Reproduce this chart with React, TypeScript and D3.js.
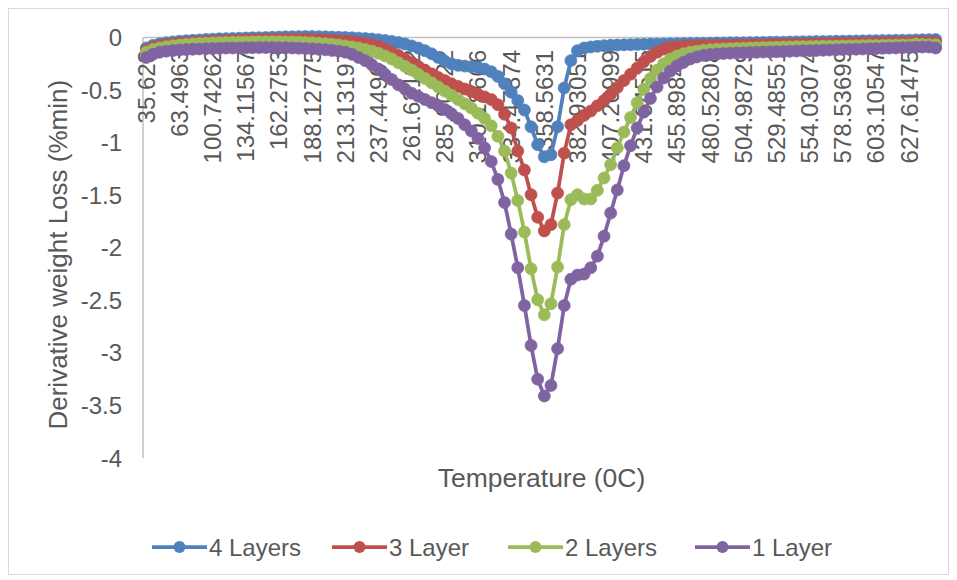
import React from "react";
import * as d3 from "d3";

// Category (temperature) tick labels, one every 5 categories; 120 categories in total
const tickLabels = [
  "35.623", "63.4963", "100.74262", "134.11567", "162.2753", "188.12775",
  "213.13197", "237.44901", "261.62112", "285.90522", "310.18666", "334.47874",
  "358.5631", "382.93051", "407.26999", "431.94515", "455.89848", "480.52808",
  "504.98729", "529.48551", "554.03074", "578.53699", "603.10547", "627.61475",
];
const categoryCount = 120;
const labelEvery = 5;

const yTicks = [0, -0.5, -1, -1.5, -2, -2.5, -3, -3.5, -4];

const layers4 = [
  -0.10, -0.075, -0.06, -0.05, -0.042, -0.036, -0.031, -0.027, -0.023, -0.019,
  -0.016, -0.013, -0.011, -0.009, -0.007, -0.005, -0.003, -0.002, 0.0, 0.002,
  0.004, 0.006, 0.007, 0.008, 0.009, 0.009, 0.008, 0.006, 0.004, 0.002,
  0.0, -0.003, -0.006, -0.01, -0.015, -0.021, -0.028, -0.037, -0.048, -0.062,
  -0.08, -0.10, -0.125, -0.155, -0.19, -0.225, -0.25, -0.265, -0.272, -0.278,
  -0.285, -0.30, -0.325, -0.37, -0.44, -0.52, -0.60, -0.69, -0.85, -1.02,
  -1.135, -1.115, -0.85, -0.48, -0.22, -0.125, -0.10, -0.09, -0.083, -0.078,
  -0.074, -0.072, -0.070, -0.068, -0.066, -0.064, -0.063, -0.062, -0.061, -0.060,
  -0.059, -0.058, -0.057, -0.056, -0.055, -0.054, -0.053, -0.052, -0.051, -0.050,
  -0.050, -0.049, -0.048, -0.047, -0.046, -0.045, -0.044, -0.043, -0.042, -0.041,
  -0.040, -0.039, -0.038, -0.037, -0.036, -0.035, -0.034, -0.033, -0.032, -0.031,
  -0.030, -0.029, -0.028, -0.027, -0.026, -0.025, -0.023, -0.022, -0.021, -0.020,
];

const layer3 = [
  -0.12, -0.095, -0.08, -0.068, -0.06, -0.054, -0.049, -0.045, -0.041, -0.038,
  -0.035, -0.032, -0.03, -0.028, -0.026, -0.024, -0.022, -0.021, -0.02, -0.019,
  -0.018, -0.017, -0.017, -0.017, -0.018, -0.019, -0.021, -0.023, -0.026, -0.03,
  -0.035, -0.041, -0.048, -0.057, -0.067, -0.085, -0.11, -0.14, -0.17, -0.205,
  -0.24, -0.275, -0.31, -0.345, -0.38, -0.41, -0.44, -0.465, -0.49, -0.515,
  -0.54, -0.565, -0.59, -0.64, -0.73, -0.86, -1.08, -1.26, -1.495, -1.71,
  -1.84, -1.78, -1.48, -1.10, -0.83, -0.79, -0.74, -0.70, -0.65, -0.60,
  -0.54, -0.475, -0.41, -0.35, -0.29, -0.23, -0.18, -0.14, -0.11, -0.095,
  -0.088, -0.084, -0.081, -0.079, -0.077, -0.076, -0.075, -0.074, -0.073, -0.072,
  -0.071, -0.070, -0.069, -0.068, -0.067, -0.066, -0.065, -0.064, -0.063, -0.062,
  -0.061, -0.060, -0.059, -0.058, -0.057, -0.056, -0.055, -0.054, -0.053, -0.052,
  -0.051, -0.050, -0.049, -0.048, -0.047, -0.046, -0.042, -0.043, -0.044, -0.045,
];

const layers2 = [
  -0.14, -0.115, -0.10, -0.088, -0.079, -0.072, -0.066, -0.061, -0.057, -0.054,
  -0.051, -0.049, -0.047, -0.045, -0.044, -0.043, -0.042, -0.041, -0.041, -0.041,
  -0.041, -0.042, -0.043, -0.045, -0.047, -0.05, -0.054, -0.059, -0.065, -0.072,
  -0.08, -0.09, -0.10, -0.115, -0.13, -0.15, -0.175, -0.205, -0.24, -0.275,
  -0.31, -0.35, -0.39, -0.43, -0.47, -0.51, -0.55, -0.59, -0.63, -0.67,
  -0.72, -0.77, -0.84, -0.94, -1.08, -1.29, -1.55, -1.85, -2.20, -2.495,
  -2.638, -2.533, -2.184, -1.78, -1.543, -1.495, -1.536, -1.536, -1.454, -1.336,
  -1.21, -1.05, -0.90, -0.76, -0.62, -0.49, -0.39, -0.31, -0.25, -0.205,
  -0.175, -0.155, -0.14, -0.13, -0.122, -0.116, -0.112, -0.109, -0.106, -0.104,
  -0.102, -0.10, -0.098, -0.096, -0.094, -0.092, -0.091, -0.09, -0.088, -0.087,
  -0.086, -0.085, -0.084, -0.083, -0.082, -0.081, -0.08, -0.079, -0.078, -0.077,
  -0.076, -0.075, -0.074, -0.073, -0.072, -0.071, -0.063, -0.066, -0.068, -0.07,
];

const layer1 = [
  -0.19, -0.16, -0.14, -0.13, -0.124, -0.119, -0.115, -0.112, -0.109, -0.107,
  -0.105, -0.103, -0.101, -0.10, -0.099, -0.098, -0.097, -0.096, -0.096, -0.096,
  -0.097, -0.098, -0.10, -0.102, -0.105, -0.108, -0.112, -0.117, -0.123, -0.13,
  -0.14, -0.16, -0.19, -0.22, -0.26, -0.30, -0.35, -0.40, -0.45, -0.49,
  -0.53, -0.56, -0.59, -0.62, -0.65, -0.685, -0.725, -0.77, -0.83, -0.89,
  -0.96, -1.05, -1.18, -1.35, -1.57, -1.87, -2.19, -2.55, -2.93, -3.25,
  -3.41, -3.31, -2.96, -2.55, -2.30, -2.26, -2.25, -2.19, -2.08, -1.89,
  -1.67, -1.45, -1.22, -1.03, -0.86, -0.71, -0.58, -0.47, -0.385, -0.32,
  -0.27, -0.235, -0.205, -0.185, -0.17, -0.162, -0.156, -0.152, -0.149, -0.147,
  -0.145, -0.143, -0.141, -0.139, -0.137, -0.135, -0.133, -0.131, -0.129, -0.127,
  -0.125, -0.123, -0.121, -0.119, -0.117, -0.115, -0.113, -0.111, -0.109, -0.107,
  -0.105, -0.103, -0.101, -0.099, -0.097, -0.095, -0.093, -0.091, -0.09, -0.10,
];

const seriesNames = ["4 Layers", "3 Layer", "2 Layers", "1 Layer"];
const seriesColors = ["#4F81BD", "#C0504D", "#9BBB59", "#8064A2"];
const seriesValues = [layers4, layer3, layers2, layer1];

const W = 957;
const H = 580;
const plot = { left: 143, right: 939, top: 37.5, bottom: 458 };
const FONT = "'Liberation Sans', Arial, Helvetica, sans-serif";
const TEXT = "#595959";
const MARKER_R = 6;
const LINE_W = 3.75;

export default function App() {
  const x = d3
    .scaleBand<number>()
    .domain(d3.range(categoryCount))
    .range([plot.left, plot.right])
    .paddingInner(0)
    .paddingOuter(0);
  const xc = (i: number) => (x(i) as number) + x.bandwidth() / 2;
  const y = d3.scaleLinear().domain([0, -4]).range([plot.top, plot.bottom]);

  const line = d3
    .line<number>()
    .x((_, i) => xc(i))
    .y((d) => y(d));

  const legendX = [152, 332, 508, 695];
  const legendY = 547;

  return (
    <svg
      width={W}
      height={H}
      style={{ position: "absolute", left: 0, top: 0, background: "#fff" }}
      fontFamily={FONT}
    >
      <rect x={0} y={0} width={W} height={H} fill="#fff" />
      <rect x={8.5} y={8.5} width={940} height={566} fill="#fff" stroke="#d9d9d9" strokeWidth={1} />

      {/* axes */}
      <line x1={plot.left} x2={plot.left} y1={y(0)} y2={y(-4)} stroke="#bfbfbf" strokeWidth={1.5} />
      <line x1={plot.left} x2={plot.right} y1={y(0)} y2={y(0)} stroke="#bfbfbf" strokeWidth={1.5} />

      {/* y tick labels */}
      {yTicks.map((t) => (
        <text
          key={t}
          x={122}
          y={y(t)}
          textAnchor="end"
          dominantBaseline="central"
          fontSize={24}
          fill={TEXT}
        >
          {String(t)}
        </text>
      ))}

      {/* category labels */}
      {tickLabels.map((lab, k) => {
        const cx = xc(k * labelEvery);
        const cy = 50;
        return (
          <text
            key={lab}
            x={cx}
            y={cy}
            transform={`rotate(-90, ${cx}, ${cy})`}
            textAnchor="end"
            dominantBaseline="central"
            fontSize={24}
            fill={TEXT}
          >
            {lab}
          </text>
        );
      })}

      {/* series */}
      {seriesValues.map((vals, s) => (
        <g key={seriesNames[s]}>
          <path d={line(vals) || ""} fill="none" stroke={seriesColors[s]} strokeWidth={LINE_W} strokeLinejoin="round" />
          {vals.map((v, i) => (
            <circle key={i} cx={xc(i)} cy={y(v)} r={MARKER_R} fill={seriesColors[s]} stroke={seriesColors[s]} strokeWidth={0.75} />
          ))}
        </g>
      ))}

      {/* axis titles */}
      <text
        transform="translate(58, 254.7) rotate(-90)"
        textAnchor="middle"
        dominantBaseline="central"
        fontSize={26}
        fill={TEXT}
      >
        Derivative weight Loss (%min)
      </text>
      <text x={541.5} y={478} textAnchor="middle" dominantBaseline="central" fontSize={26.5} fill={TEXT}>
        Temperature (0C)
      </text>

      {/* legend */}
      {seriesNames.map((name, s) => (
        <g key={name}>
          <line x1={legendX[s]} x2={legendX[s] + 55} y1={legendY} y2={legendY} stroke={seriesColors[s]} strokeWidth={LINE_W} />
          <circle cx={legendX[s] + 27.5} cy={legendY} r={MARKER_R} fill={seriesColors[s]} />
          <text x={legendX[s] + 57} y={legendY} dominantBaseline="central" fontSize={24} fill={TEXT}>
            {name}
          </text>
        </g>
      ))}
    </svg>
  );
}
